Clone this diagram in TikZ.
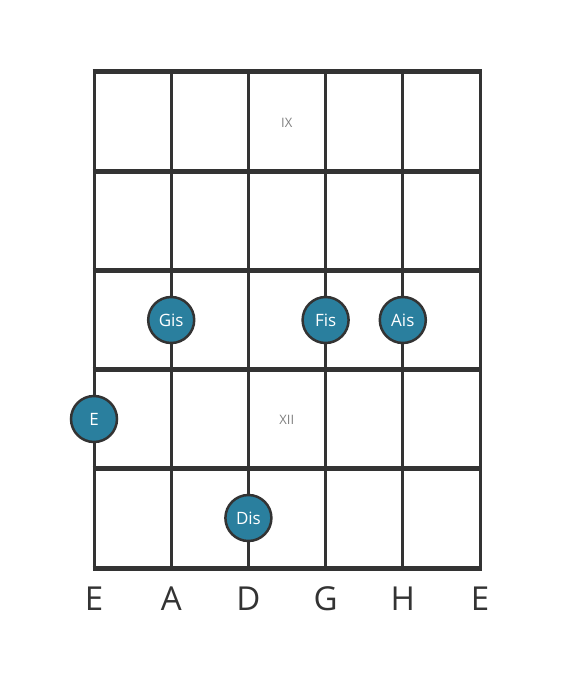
\documentclass[tikz,border=0pt]{standalone}
\usepackage{fontspec}
\setmainfont{Open Sans}
\definecolor{linec}{HTML}{333333}
\definecolor{dotc}{HTML}{2A7F9E}
\definecolor{romanc}{HTML}{808080}
\begin{document}
\begin{tikzpicture}[x=1pt,y=-1pt,
  stringline/.style={draw=linec,line width=3pt},
  fretline/.style={draw=linec,line width=5pt},
  notedot/.style={circle,fill=dotc,draw=linec,line width=2.5pt,minimum size=46pt,inner sep=0pt,text=white,font=\fontsize{17}{20}\selectfont},
  strlabel/.style={text=linec,font=\fontsize{33}{38}\selectfont,anchor=center},
  roman/.style={text=romanc,font=\fontsize{13}{15}\selectfont}]
\useasboundingbox (0,0) rectangle (560,682);
\foreach \x in {94,171.2,248.4,325.6,402.8,480}{
  \draw[stringline] (\x,72) -- (\x,568);
}
\foreach \y in {72,171.2,270.4,369.6,468.8,568}{
  \draw[fretline] (92.5,\y) -- (481.5,\y);
}
\node[roman] (ix) at (286.8,123) {IX};
\node[roman] (xii) at (286.8,420) {XII};
\node[notedot] (gis) at (171.2,320) {Gis};
\node[notedot] (fis) at (325.6,320) {Fis};
\node[notedot] (ais) at (402.8,320) {Ais};
\node[notedot] (e) at (94,419) {E};
\node[notedot] (dis) at (248.4,518) {Dis};
\node[strlabel] (l1) at (94,599) {E};
\node[strlabel] (l2) at (171.2,599) {A};
\node[strlabel] (l3) at (248.4,599) {D};
\node[strlabel] (l4) at (325.6,599) {G};
\node[strlabel] (l5) at (402.8,599) {H};
\node[strlabel] (l6) at (480,599) {E};
\end{tikzpicture}
\end{document}
